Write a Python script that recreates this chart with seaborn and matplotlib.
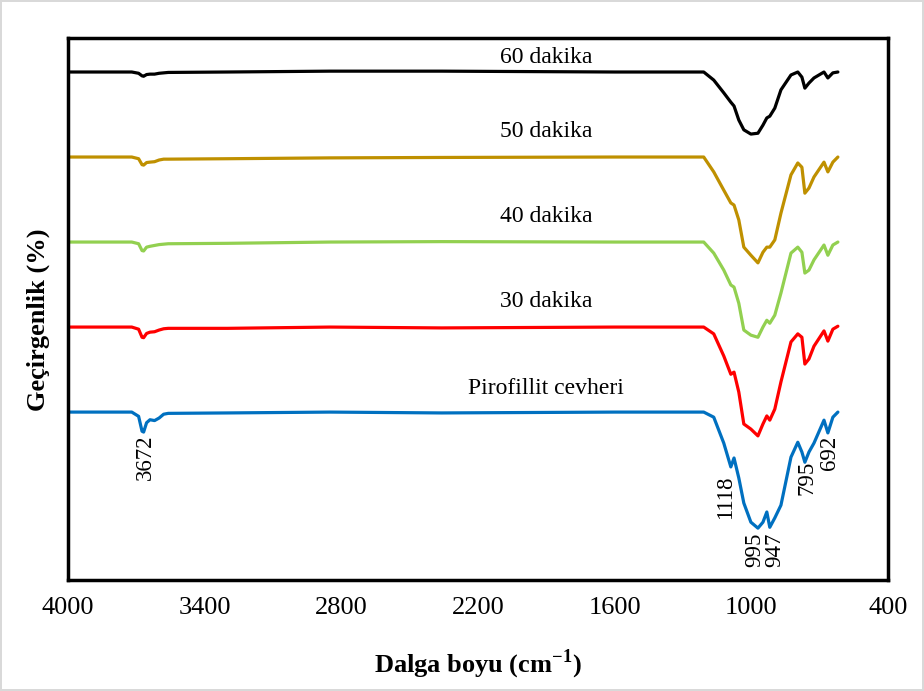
import pandas as pd
import matplotlib.pyplot as plt
import seaborn as sns

# FTIR spectra of pyrophyllite ore and after 30-60 min treatment
wavenumber = [4000, 3720, 3690, 3675, 3668, 3655, 3640, 3620, 3600, 3580, 3560, 3300, 2850, 2360, 1600,
              1209, 1165, 1121, 1090, 1076, 1055, 1033, 1002, 971, 949, 932, 919, 897, 870, 826,
              796, 778, 765, 747, 725, 681, 664, 642, 620]

pirofillit = [100, 100, 99.0, 95.5, 95.3, 97.5, 98.2, 98.0, 98.6, 99.5, 99.7, 99.8, 100, 99.8, 100,
              100, 98.8, 92.7, 87.1, 89.2, 84.5, 78.6, 74.1, 72.7, 74.1, 76.5, 72.9, 75.1, 78.1, 89.4,
              92.9, 90.6, 88.2, 90.6, 92.7, 98.1, 95.1, 98.8, 100]
dakika30 = [100, 100, 99.5, 97.6, 97.5, 98.5, 98.8, 98.9, 99.3, 99.6, 99.7, 99.7, 100, 99.8, 100,
            100, 98.4, 93.2, 88.9, 89.4, 84.7, 77.2, 76.0, 74.4, 77.2, 79.1, 78.1, 80.7, 87.1, 96.5,
            98.4, 97.6, 91.3, 92.5, 95.5, 99.1, 96.7, 99.5, 100.2]
dakika40 = [100, 100, 99.6, 98.0, 97.9, 98.8, 99.0, 99.2, 99.4, 99.5, 99.6, 99.7, 100, 100.1, 100,
            100, 97.4, 93.4, 89.9, 89.4, 85.6, 79.3, 78.1, 77.6, 80.0, 81.6, 80.9, 82.8, 88.0, 97.4,
            98.8, 97.6, 92.7, 93.4, 95.8, 99.3, 96.9, 99.3, 100]
dakika50 = [100, 100, 99.6, 98.2, 98.1, 98.7, 98.8, 98.9, 99.3, 99.5, 99.5, 99.6, 99.8, 99.9, 100,
            100, 96.5, 92.2, 89.2, 88.7, 85.2, 78.8, 76.9, 75.1, 77.6, 78.8, 78.8, 80.5, 86.8, 95.8,
            98.6, 97.6, 91.5, 92.7, 95.3, 98.8, 96.5, 98.8, 100]
dakika60 = [100, 100, 99.7, 99.1, 99.0, 99.4, 99.5, 99.5, 99.7, 99.8, 99.9, 100, 100.2, 100.2, 100,
            100, 98.1, 95.1, 92.9, 92.0, 88.7, 86.4, 85.4, 85.6, 87.5, 89.2, 89.6, 91.5, 95.8, 99.3,
            100, 98.8, 96.2, 97.4, 98.6, 100, 98.6, 99.8, 100]

series_names = ['Pirofillit cevheri', '30 dakika', '40 dakika', '50 dakika', '60 dakika']
series_values = [pirofillit, dakika30, dakika40, dakika50, dakika60]
series_colors = ['#0070C0', '#FF0000', '#92D050', '#BF9000', '#000000']

peak_labels = ['3672', '1118', '995', '947', '795', '692']
peak_x = [3662, 1112, 986, 896, 756, 655]
peak_y = [89.4, 80.0, 67.5, 67.5, 84.5, 90.4]

# vertical stacking of the spectra
offsets = [0, 20, 40, 60, 80]
name_y = [105.6, 125.9, 146.1, 165.9, 183.5]

rows = []
for name, vals, off in zip(series_names, series_values, offsets):
    for w, v in zip(wavenumber, vals):
        rows.append({'wn': w, 'T': v + off, 'seri': name})
df = pd.DataFrame(rows)

sns.set_theme(style='white')
plt.rcParams['font.family'] = ['Liberation Serif', 'DejaVu Serif']
plt.rcParams['mathtext.fontset'] = 'custom'
plt.rcParams['mathtext.rm'] = 'Liberation Serif'
plt.rcParams['mathtext.bf'] = 'Liberation Serif:bold'

fig = plt.figure(figsize=(9.24, 6.91), dpi=100, edgecolor='#d9d9d9', linewidth=1.5)
ax = fig.add_axes([68 / 924, 111 / 691, 820 / 924, 542 / 691])

sns.lineplot(data=df, x='wn', y='T', hue='seri', hue_order=series_names,
             palette=series_colors, estimator=None, linewidth=2.3, legend=False, ax=ax)

ax.set_xlim(4000, 400)
ax.set_ylim(60.5, 188)
ax.set_xticks([4000, 3400, 2800, 2200, 1600, 1000, 400])
ax.set_yticks([])
ax.tick_params(axis='x', length=0, pad=12, labelsize=19, colors='black')

for s in ax.spines.values():
    s.set_color('black')
    s.set_linewidth(2.5)

for name, y in zip(series_names, name_y):
    ax.text(1900, y, name, ha='center', va='center', fontsize=17, color='black')

for lab, x, y in zip(peak_labels, peak_x, peak_y):
    ax.text(x, y, lab, rotation=90, ha='center', va='center', fontsize=16.5, color='black')

ax.set_xlabel('Dalga boyu (cm$^{\\mathbf{-1}}$)', fontsize=19, fontweight='bold', color='black')
ax.set_ylabel('Geçirgenlik (%)', fontsize=19, fontweight='bold', color='black')
ax.xaxis.set_label_coords(0.5, -0.124)
ax.yaxis.set_label_coords(-0.022, 0.48)

fig.savefig('out.png', dpi=100, edgecolor=fig.get_edgecolor())
